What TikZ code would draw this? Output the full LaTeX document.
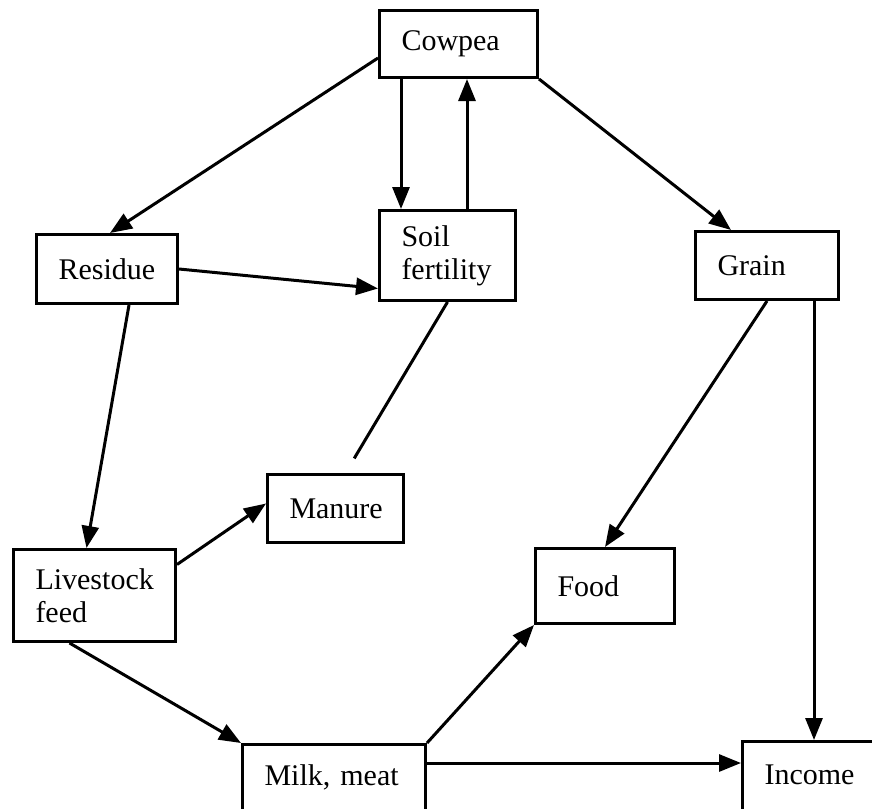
\documentclass[tikz,border=0pt]{standalone}
\usepackage{fontspec}
\setmainfont{Liberation Serif}
\usetikzlibrary{arrows.meta}
\tikzset{
  block/.style    = {draw, line width=3pt, anchor=north west, align=left,
                     inner xsep=22pt, inner ysep=0pt,
                     font=\fontsize{30}{33}\selectfont},
  cutblock/.style = {block, text height=41pt, text depth=70pt},
  flow/.style     = {-{Triangle[length=22pt,width=17pt]}, line width=3pt},
  tie/.style      = {line width=3pt}
}

\begin{document}
\begin{tikzpicture}[x=1pt, y=-1pt]

  % Page frame (the two bottom boxes run off the edge).
  \useasboundingbox (0,0) rectangle (872,808);
  \clip (0,0) rectangle (872,808);

  % Boxes, placed by their top left corners.
  \node[block, text width=114pt, minimum height=67pt] (cowpea)  at (378,9)   {Cowpea};
  \node[block, text width=97pt,  minimum height=69pt] (residue) at (35,233)  {Residue};
  \node[block, text width=92pt,  minimum height=90pt] (soil)    at (378,209) {Soil\\fertility};
  \node[block, text width=99pt,  minimum height=68pt] (grain)   at (694,230) {Grain};
  \node[block, text width=92pt,  minimum height=68pt] (manure)  at (266,473) {Manure};
  \node[block, text width=118pt, minimum height=92pt] (feed)    at (12,548)  {Livestock\\feed};
  \node[block, text width=95pt,  minimum height=75pt] (food)    at (534,547) {Food};
  \node[cutblock, text width=139pt]                   (milk)    at (241,743) {Milk, meat};
  \node[cutblock, text width=116pt, text height=43pt] (income)  at (741,740) {Income};

  % From the crop.
  \draw[flow] ([yshift=-14pt]cowpea.west) -- ([xshift=3pt]residue.north);
  \draw[flow] ([xshift=23pt]cowpea.south west) -- ([xshift=23pt]soil.north west);
  \draw[flow] ([xshift=89pt]soil.north west) -- ([xshift=89pt]cowpea.south west);
  \draw[flow] (cowpea.south east) -- ([xshift=37pt]grain.north west);

  % Residue and livestock loop.
  \draw[flow] (residue.east) -- ([yshift=-33pt]soil.west);
  \draw[flow] ([xshift=22pt]residue.south) -- ([xshift=-8pt]feed.north);
  \draw[flow] ([yshift=31pt]feed.east) -- ([yshift=5pt]manure.west);
  \draw[tie, shorten <=17pt] ([xshift=10pt]manure.north) -- (soil.south);
  \draw[flow] ([xshift=-25pt]feed.south) -- (milk.north west);

  % Grain and products.
  \draw[flow] (grain.south) -- (food.north);
  \draw[flow] ([xshift=-26pt]grain.south east) -- ([xshift=-26pt]grain.south east |- income.north);
  \draw[flow] (milk.north east) -- (food.south west);
  \draw[flow] ([yshift=-20pt]milk.north east) -- ([yshift=-23pt]income.north west);

\end{tikzpicture}
\end{document}
